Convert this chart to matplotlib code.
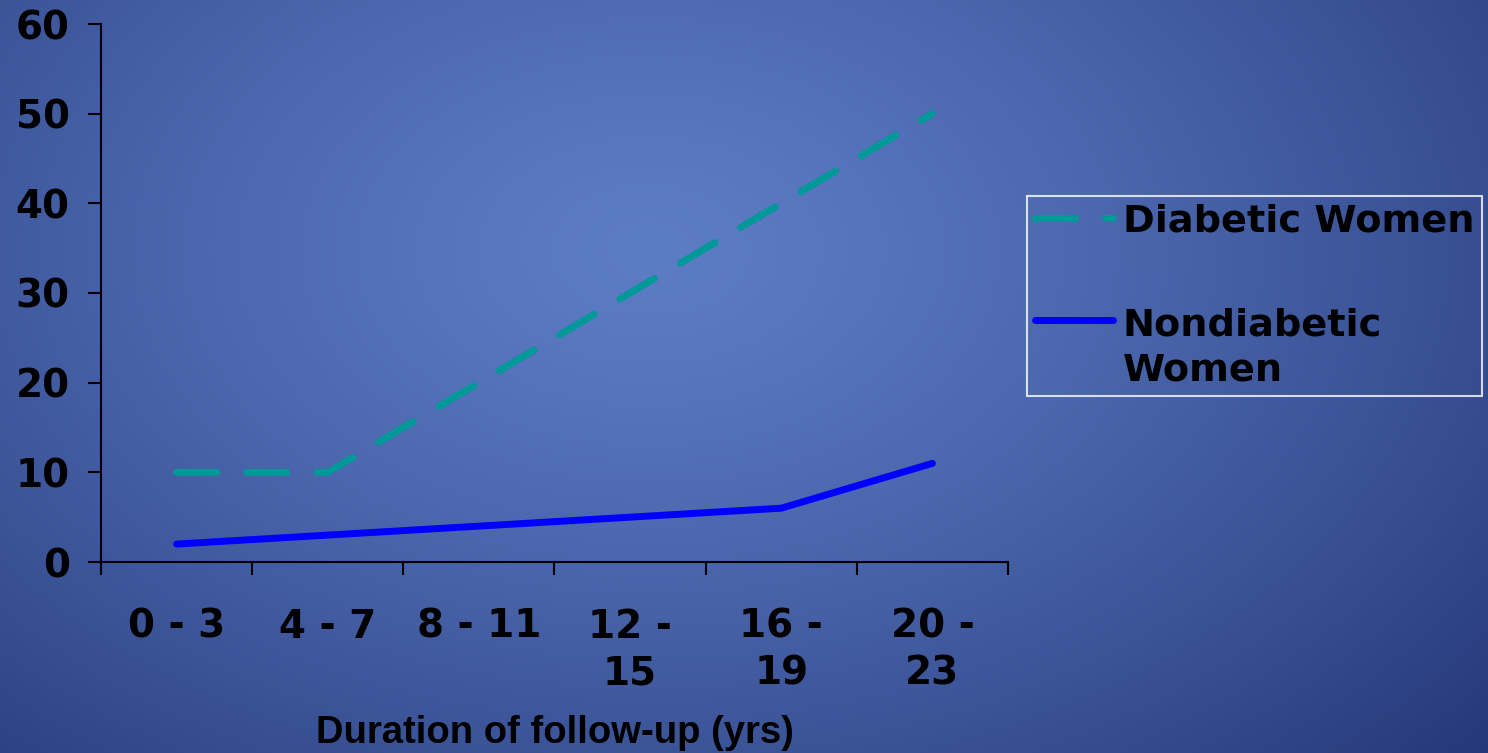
import numpy as np
import matplotlib.pyplot as plt
from matplotlib.legend_handler import HandlerLine2D

# follow-up periods and incidence for the two groups
periods = ['0 - 3', '4 - 7', '8 - 11', '12 -\n15', '16 -\n19', '20 -\n23']
diabetic = [10, 10, 20, 30, 40, 50]
nondiabetic = [2, 3, 4, 5, 6, 11]

W, H = 1488, 753
fig = plt.figure(figsize=(W / 100, H / 100), dpi=100)

# radial blue gradient behind everything
bg = fig.add_axes([0, 0, 1, 1], zorder=-10)
yy, xx = np.mgrid[0:H, 0:W]
r = np.sqrt(((xx - 650) / 900.0) ** 2 + ((yy - 250) / 600.0) ** 2) ** 1.3
center = np.array([92, 124, 196]) / 255.0
drop = np.array([41, 51, 56]) / 255.0
img = np.clip(center[None, None, :] - drop[None, None, :] * r[..., None], 0, 1)
bg.imshow(img, aspect='auto', extent=[0, 1, 0, 1], origin='upper')
bg.axis('off')

ax = fig.add_axes([101 / W, 1 - 562 / H, (1008 - 101) / W, (562 - 24) / H])
ax.patch.set_alpha(0)

x = np.arange(len(periods))
ax.plot(x, diabetic, color='#009999', lw=5, linestyle=(0, (5.8, 4.3)),
        dash_capstyle='round', solid_capstyle='round', label='Diabetic Women')
line_nd, = ax.plot(x, nondiabetic, color='#0000ff', lw=5, solid_capstyle='round',
                   label='Nondiabetic\nWomen')

ax.set_xlim(-0.5, len(periods) - 0.5)
ax.set_ylim(0, 60)
ax.set_yticks(range(0, 61, 10))

# boundary ticks between groups, labels at the group centres
ax.set_xticks(np.arange(-0.5, len(periods), 1.0))
ax.set_xticklabels([])
ax.set_xticks(x, minor=True)
ax.set_xticklabels(periods, minor=True)
ax.tick_params(axis='x', which='minor', length=0, pad=33)
ax.tick_params(axis='both', which='major', length=9.5, width=1.5, color='black')
ax.tick_params(axis='y', pad=13)

for t in ax.get_xticklabels(minor=True) + ax.get_yticklabels():
    t.set_fontfamily('DejaVu Sans')
    t.set_fontweight('bold')
    t.set_fontsize(28)
    t.set_linespacing(1.3)
    t.set_multialignment('center')

for s in ['top', 'right']:
    ax.spines[s].set_visible(False)
for s in ['left', 'bottom']:
    ax.spines[s].set_linewidth(1.5)
    ax.spines[s].set_color('black')

ax.set_xlabel('Duration of follow-up (yrs)', fontsize=27.5, fontweight='bold',
              family='Liberation Sans', labelpad=16)


class FirstLineHandler(HandlerLine2D):
    # put the legend line level with the first line of a two-line label
    def __init__(self, dy, **kw):
        super().__init__(**kw)
        self.dy = dy

    def create_artists(self, legend, orig_handle, xdescent, ydescent,
                       width, height, fontsize, trans):
        arts = super().create_artists(legend, orig_handle, xdescent, ydescent,
                                      width, height, fontsize, trans)
        for a in arts:
            a.set_ydata(np.asarray(a.get_ydata()) + self.dy * fontsize)
        return arts


leg = ax.legend(loc='upper left', bbox_to_anchor=(1027 / W, 1 - 196 / H),
                bbox_transform=fig.transFigure, frameon=True, fancybox=False,
                prop={'family': 'DejaVu Sans', 'weight': 'bold', 'size': 27.5},
                handlelength=2.05, handletextpad=0.26, labelspacing=1.78,
                borderpad=0.2, borderaxespad=0,
                handler_map={line_nd: FirstLineHandler(0.75)})
for t in leg.get_texts():
    t.set_linespacing(1.32)
leg.get_frame().set_edgecolor('white')
leg.get_frame().set_facecolor('none')
leg.get_frame().set_linewidth(1.5)

fig.savefig('out.png', dpi=100)
